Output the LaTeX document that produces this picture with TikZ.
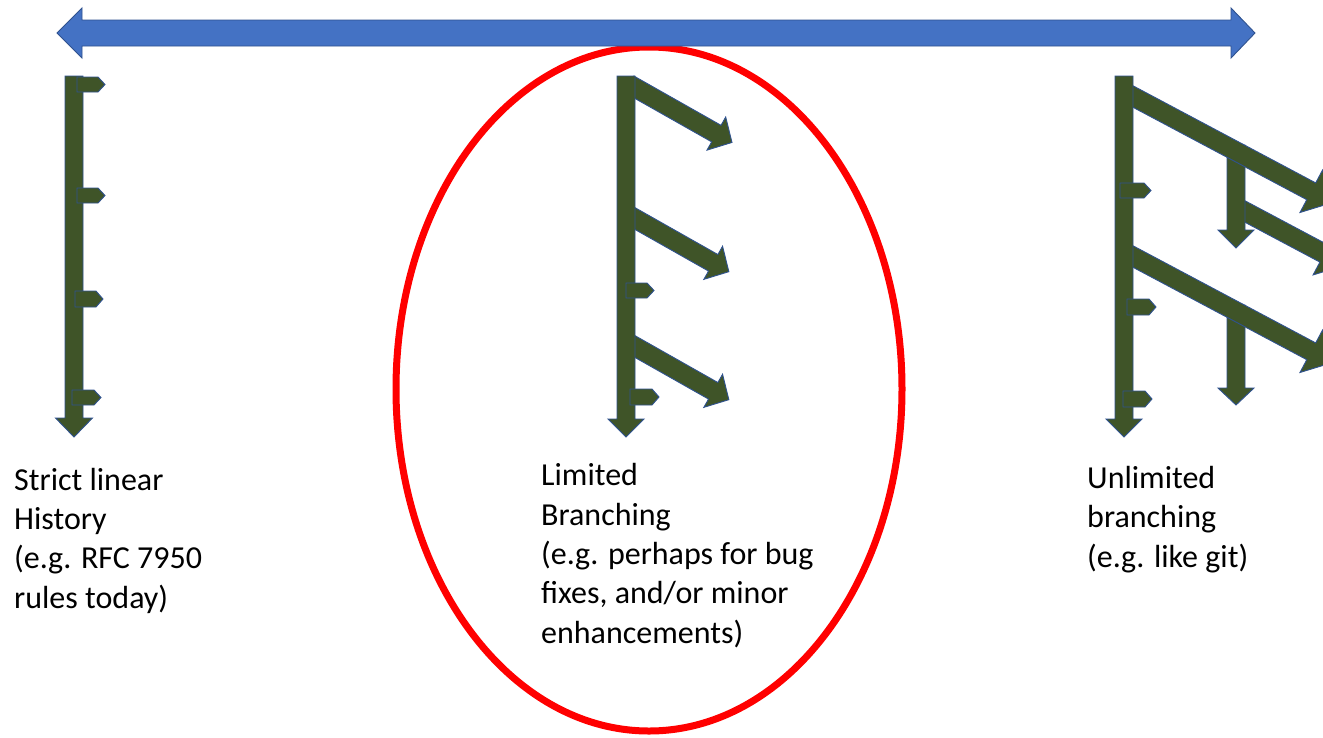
\documentclass[tikz,border=0pt]{standalone}
\usepackage{fontspec}
\setmainfont{Carlito}
\definecolor{gfill}{HTML}{3F5428}
\definecolor{gline}{HTML}{2F528F}
\definecolor{bfill}{HTML}{4472C4}
\definecolor{bline}{HTML}{2F528F}
\tikzset{
  garrow/.style={fill=gfill,draw=gline,line width=0.9pt,line join=miter},
  barrow/.style={fill=bfill,draw=bline,line width=0.9pt},
  ring/.style={draw=red,line width=7pt},
  label/.style={anchor=base west,align=left,inner sep=0pt,font=\fontsize{32}{39.3}\selectfont}
}
% diagonal arrow: x y angle length shaftwidth headwidth headlength
\newcommand\diagarrow[7]{%
  \begin{scope}[shift={(#1,#2)},rotate=-#3]
    \pgfmathsetmacro\dA{#5/2*tan(#3)}
    \pgfmathsetmacro\dB{#4-#7}
    \draw[garrow] (-\dA,{-#5/2}) -- (\dB,{-#5/2}) -- (\dB,{-#6/2}) -- (#4,0)
      -- (\dB,{#6/2}) -- (\dB,{#5/2}) -- (\dA,{#5/2}) -- cycle;
  \end{scope}}
% vertical arrow: xc ytop shaftwidth headwidth ybase ytip
\newcommand\vertarrow[6]{%
  \draw[garrow] ({#1-#3/2},#2) -- ({#1-#3/2},#5) -- ({#1-#4/2},#5) -- (#1,#6)
    -- ({#1+#4/2},#5) -- ({#1+#3/2},#5) -- ({#1+#3/2},#2) -- cycle;}
% commit mark: x0 x1 y0 y1
\newcommand\commitmark[4]{%
  \draw[garrow] (#1,#3) -- ({#2-7},#3) -- (#2,{(#3+#4)/2}) -- ({#2-7},#4) -- (#1,#4) -- cycle;}
\begin{document}
\begin{tikzpicture}[x=1pt,y=-1pt]
\useasboundingbox (0,0) rectangle (1323,737);
\clip (0,0) rectangle (1323,737);
\fill[white] (0,0) rectangle (1323,737);

% red ellipse
\draw[ring] (649,389) ellipse [x radius=253, y radius=342];

% blue double arrow
\draw[barrow] (57,33) -- (82,8) -- (82,20) -- (1231,20) -- (1231,8) -- (1255,33)
  -- (1231,58) -- (1231,46) -- (82,46) -- (82,58) -- cycle;

% left: strict linear
\vertarrow{74}{76}{18}{37}{418}{437}
\commitmark{77}{105}{77}{92}
\commitmark{77}{105}{188}{203}
\commitmark{75}{103}{291}{307}
\commitmark{72}{101}{390}{405}

% middle: limited branching
\diagarrow{634}{87}{29.5}{112.6}{19}{38}{18}
\diagarrow{634}{218}{29.5}{109}{19}{38}{18}
\diagarrow{634}{346}{29.5}{109}{19}{38}{18}
\vertarrow{626}{76}{18}{36}{419}{437}
\commitmark{626}{654}{283}{298}
\commitmark{630}{659}{389}{405}

% right: unlimited branching
\diagarrow{1244}{211}{28}{115}{19}{48}{24}
\vertarrow{1236}{145}{18}{36}{230}{248}
\diagarrow{1132}{96}{28}{227}{19}{48}{24}
\vertarrow{1236}{305}{18}{36}{388}{405}
\diagarrow{1132}{256}{28}{227}{19}{48}{24}
\vertarrow{1124}{76}{18}{36}{419}{437}
\commitmark{1120}{1151}{183}{198}
\commitmark{1127}{1156}{299}{315}
\commitmark{1123}{1152}{391}{407}

% labels (base anchor = baseline of last line)
\node[label] (strict) at (14,608) {Strict linear\\History\\(e.g. RFC 7950\\rules today)};
\node[label] (limited) at (541,643) {Limited\\Branching\\(e.g. perhaps for bug\\fixes, and/or minor\\enhancements)};
\node[label] (unlimited) at (1087,567) {Unlimited\\branching\\(e.g. like git)};
\end{tikzpicture}
\end{document}
